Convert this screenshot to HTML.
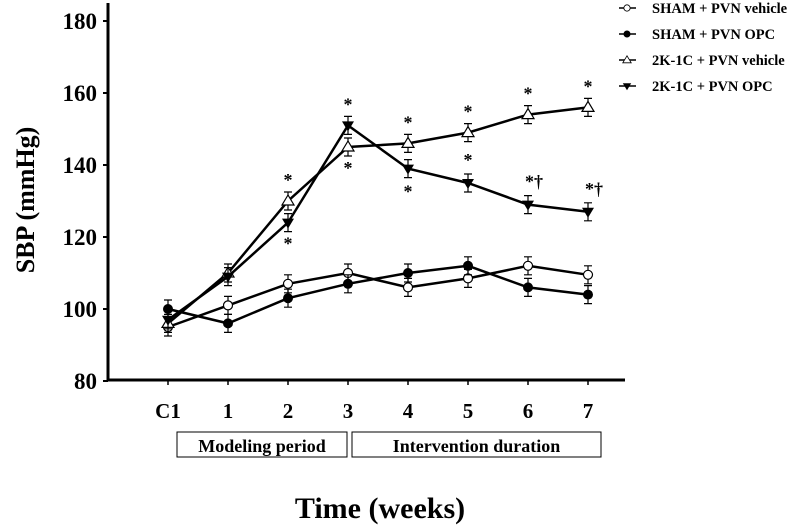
<!DOCTYPE html>
<html><head><meta charset="utf-8"><style>
body{margin:0;background:#fff}
svg text{font-family:"Liberation Serif",serif;font-weight:bold}
</style></head><body>
<svg width="787" height="526" viewBox="0 0 787 526">
<g id="axes"></g>
<g id="marks"></g>
<g id="legend"></g>
</svg>
<script>
const categories=["C1","1","2","3","4","5","6","7"];
const yTicks=[80,100,120,140,160,180];
const shamVeh=[95,101,107,110,106,108.5,112,109.5];
const shamOpc=[100,96,103,107,110,112,106,104];
const kVeh=[96,110,130,145,146,149,154,156];
const kOpc=[97,109,124,151,139,135,129,127];
const errs=[2.5,2.5,2.5,2.5,2.5,2.5,2.5,2.5];
const starsVeh=["","","*","*","*","*","*","*"];
const starsOpc=["","","*","*","*","*","*†","*†"];
const NS="http://www.w3.org/2000/svg";
const xS=i=>168+i*60;
const yS=v=>381-(v-80)*3.6;
function mk(t,a,p){const e=document.createElementNS(NS,t);for(const k in a)e.setAttribute(k,a[k]);(p||document.getElementById('marks')).appendChild(e);return e;}
const ax=document.getElementById('axes');
let e=mk('line',{x1:108,y1:380,x2:625,y2:380,stroke:'#000','stroke-width':3},ax);


e=mk('line',{x1:108,y1:3,x2:108,y2:381,stroke:'#000','stroke-width':3},ax);


yTicks.forEach(v=>{mk('line',{x1:103,y1:yS(v),x2:108,y2:yS(v),stroke:'#000','stroke-width':2},ax);
 const t=mk('text',{x:97,y:yS(v)+8,'text-anchor':'end','font-size':23},ax);t.textContent=v;
 
 });
categories.forEach((c,i)=>{mk('line',{x1:xS(i),y1:380,x2:xS(i),y2:385,stroke:'#000','stroke-width':1.5},ax);
 const t=mk('text',{x:xS(i),y:418,'text-anchor':'middle','font-size':21},ax);t.textContent=c;
 
 });
let t=mk('text',{x:0,y:0,'text-anchor':'middle','font-size':26,transform:'translate(34,200) rotate(-90)'},ax);t.textContent='SBP (mmHg)';


t=mk('text',{x:380,y:518,'text-anchor':'middle','font-size':30},ax);t.textContent='Time (weeks)';


[[177,347,'Modeling period'],[352,601,'Intervention duration']].forEach(b=>{
 const r=mk('rect',{x:b[0],y:432,width:b[1]-b[0],height:25,fill:'#fff',stroke:'#000','stroke-width':1},ax);
 
 
 const tt=mk('text',{x:(b[0]+b[1])/2,y:452,'text-anchor':'middle','font-size':18},ax);tt.textContent=b[2];
 
 });
function marker(type,x,y,p){
 if(type==='oc')return mk('circle',{cx:x,cy:y,r:4.5,fill:'#fff',stroke:'#000','stroke-width':1.2},p);
 if(type==='fc')return mk('circle',{cx:x,cy:y,r:5,fill:'#000'},p);
 if(type==='ot')return mk('polygon',{points:`${x},${y-6} ${x-6},${y+4} ${x+6},${y+4}`,fill:'#fff',stroke:'#000','stroke-width':1.2},p);
 return mk('polygon',{points:`${x},${y+6} ${x-6},${y-4} ${x+6},${y-4}`,fill:'#000'},p);}
const series=[[shamVeh,'oc','sham-vehicle'],[shamOpc,'fc','sham-opc'],[kVeh,'ot','2k1c-vehicle'],[kOpc,'ft','2k1c-opc']];
series.forEach(s=>{
 const l=mk('polyline',{points:s[0].map((v,i)=>xS(i)+','+yS(v)).join(' '),fill:'none',stroke:'#000','stroke-width':2.5});
 
 
 s[0].forEach((v,i)=>{
  const x=xS(i),y1=yS(v+errs[i]),y2=yS(v-errs[i]);
  mk('path',{d:`M${x},${y1}V${y2}M${x-4},${y1}H${x+4}M${x-4},${y2}H${x+4}`,stroke:'#000','stroke-width':1.2,fill:'none'});
  const m=marker(s[1],x,yS(v));
  
  });});
starsVeh.forEach((s,i)=>{if(!s)return;const v=Math.max(kVeh[i],kOpc[i]);
 const tt=mk('text',{x:xS(i),y:yS(v+errs[i])-6,'text-anchor':'middle','font-size':18,'font-weight':'normal'});tt.textContent=s;
 
 });
starsOpc.forEach((s,i)=>{if(!s)return;let y;
 if(i>=5)y=yS(kOpc[i]+errs[i])-8; else y=yS(Math.min(kVeh[i],kOpc[i])-errs[i])+18;
 if(i===4)y=yS(kOpc[i]-errs[i])+20;
 const tt=mk('text',{x:xS(i)+(s.length>1?6:0),y:y,'text-anchor':'middle','font-size':18,'font-weight':'normal'});tt.textContent=s;
 
 });
const lg=document.getElementById('legend');
const names=['SHAM + PVN vehicle','SHAM + PVN OPC','2K-1C + PVN vehicle','2K-1C + PVN OPC'];
series.forEach((s,k)=>{const y=8+k*26;
 mk('line',{x1:619,y1:y,x2:636,y2:y,stroke:'#000','stroke-width':1.5},lg);
 marker(s[1],627,y,lg).setAttribute('transform',`translate(${627*0.3},${y*0.3}) scale(0.7)`);
 const tt=mk('text',{x:652,y:y+5,'font-size':14.5},lg);tt.textContent=names[k];
 
 });
</script>
</body></html>
